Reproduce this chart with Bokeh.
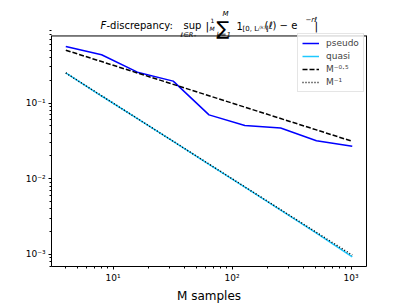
from bokeh.plotting import figure
from bokeh.models import Range1d, FixedTicker, Label, Legend, LegendItem, LogAxis, Span
from bokeh.embed import file_html
from bokeh.resources import INLINE

# ---- data ----
M = [4, 8, 16, 32, 64, 128, 256, 512, 1024]
pseudo = [0.558, 0.435, 0.256, 0.195, 0.0698, 0.0506, 0.0468, 0.0318, 0.0269]
quasi = [0.25, 0.124, 0.0622, 0.0311, 0.0155, 0.00776, 0.00386, 0.00191, 0.00093]
ref_half = [m ** -0.5 for m in M]
ref_one = [1.0 / m for m in M]
x_major = [10, 100, 1000]
x_major_labels = ["10¹", "10²", "10³"]
y_major = [1e-3, 1e-2, 1e-1]
y_major_labels = ["10⁻³", "10⁻²", "10⁻¹"]
legend_labels = ["pseudo", "quasi", "M⁻⁰·⁵", "M⁻¹"]

FONT = "DejaVu Sans"

W, H = 407, 305
BL, BR, BB = 51, 41, 35
AX_TOP_PX = 36           # plot box top in canvas px
Y_LO, Y_HI = -3.16, -0.113  # log10 limits of the visible axes box
FH = H - BB
Y_TOP = Y_HI + (Y_HI - Y_LO) * AX_TOP_PX / (FH - AX_TOP_PX)  # frame extends over the title band

p = figure(width=W, height=H, x_axis_type="log", y_axis_type="log",
           x_range=Range1d(10 ** 0.482, 10 ** 3.130),
           y_range=Range1d(10 ** Y_LO, 10 ** Y_TOP),
           output_backend="svg", toolbar_location=None,
           min_border_left=BL, min_border_right=BR, min_border_top=0, min_border_bottom=BB)
p.xgrid.visible = False
p.ygrid.visible = False
p.outline_line_color = None

xminor = [k * 10 ** e for e in range(0, 4) for k in range(2, 10)]
yminor = [k * 10.0 ** e for e in range(-4, 0) for k in range(2, 10)]
p.xaxis.ticker = FixedTicker(ticks=x_major, minor_ticks=xminor)
p.yaxis.ticker = FixedTicker(ticks=y_major, minor_ticks=yminor)
p.yaxis.bounds = (10 ** Y_LO, 10 ** Y_HI)
p.xaxis.major_label_overrides = dict(zip(x_major, x_major_labels))
p.yaxis.major_label_overrides = dict(zip(y_major, y_major_labels))
for ax in (p.xaxis, p.yaxis):
    ax.major_tick_in = 0
    ax.major_tick_out = 3
    ax.minor_tick_in = 0
    ax.minor_tick_out = 2
    ax.major_label_text_font = FONT
    ax.major_label_text_font_size = "9px"
    ax.major_label_text_color = "black"
    ax.axis_line_color = "black"
    ax.major_tick_line_color = "black"
    ax.minor_tick_line_color = "black"
    ax.major_label_standoff = 3
p.xaxis.axis_label = "M samples"
p.xaxis.axis_label_text_font = FONT
p.xaxis.axis_label_text_font_size = "12px"
p.xaxis.axis_label_text_font_style = "normal"
p.xaxis.axis_label_text_color = "black"
p.xaxis.axis_label_standoff = 3

# right edge and top edge of the axes box
right_ax = LogAxis(bounds=(10 ** Y_LO, 10 ** Y_HI), ticker=FixedTicker(ticks=[]),
                   major_tick_out=0, minor_tick_out=0, major_label_text_alpha=0,
                   major_label_standoff=0, axis_line_color="black")
p.add_layout(right_ax, "right")
p.add_layout(Span(location=10 ** Y_HI, dimension="width", line_color="black", line_width=1))

r1 = p.line(M, pseudo, line_color="#0000ff", line_width=1.5)
r2 = p.line(M, quasi, line_color="#1ec8ff", line_width=1.5)
r3 = p.line(M, ref_half, line_color="black", line_width=1.5, line_dash="5 2")
r4 = p.line(M, ref_one, line_color="black", line_width=1.5, line_dash="1 2")

legend = Legend(items=[LegendItem(label=l, renderers=[r]) for l, r in
                       zip(legend_labels, [r1, r2, r3, r4])],
                location=(297 - BL, FH - 96))
legend.label_text_font = FONT
legend.label_text_font_size = "9px"
legend.label_height = 10
legend.glyph_height = 10
legend.glyph_width = 17
legend.label_standoff = 7
legend.spacing = 3
legend.padding = 4
legend.margin = 0
legend.border_line_color = "#cccccc"
legend.background_fill_alpha = 0.8
p.add_layout(legend)

# ---- title built from text pieces (canvas coords, y downward) ----
pieces = [
    ("F", 100, 25, "10px", "italic"),
    ("-discrepancy:", 106, 25, "10px", "normal"),
    ("sup", 183, 25, "10px", "normal"),
    ("ℓ∈R₊", 180, 34, "6.5px", "italic"),
    ("|", 205, 26, "11px", "normal"),
    ("1", 210, 20, "6px", "normal"),
    ("M", 209, 28, "6px", "italic"),
    ("∑", 216, 27, "19px", "normal"),
    ("M", 222, 13, "7px", "italic"),
    ("k=1", 216, 34, "7px", "italic"),
    ("1", 236, 25, "10px", "normal"),
    ("[0, Lᵢ⁽ᵏ⁾]", 242, 28, "7px", "normal"),
    ("(ℓ) − e", 264, 25, "10px", "normal"),
    ("−rℓ", 305, 19, "7px", "italic"),
    ("|", 314, 26, "11px", "normal"),
]
for t, rx, ry, fs, st in pieces:
    p.add_layout(Label(x=rx, y=ry, x_units="canvas", y_units="canvas",
                       text=t, text_font=FONT, text_font_size=fs, text_font_style=st,
                       text_align="left", text_baseline="alphabetic", text_color="black"))

open("out.html", "w").write(file_html(p, INLINE))
